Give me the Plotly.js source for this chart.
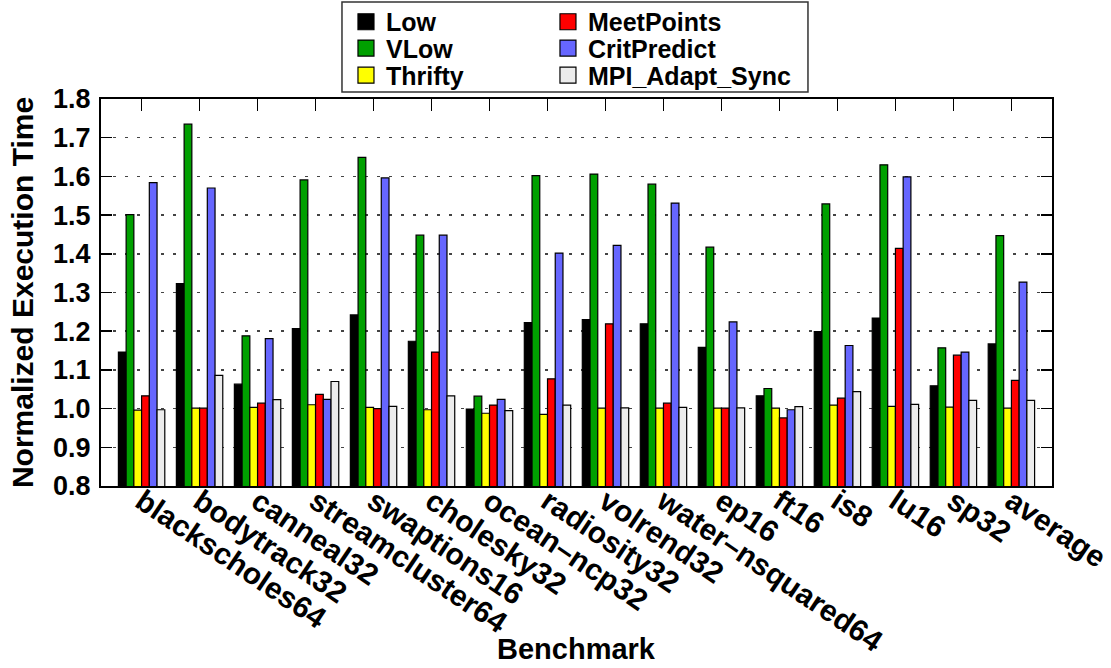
<!DOCTYPE html>
<html>
<head>
<meta charset="utf-8">
<script src="https://cdn.plot.ly/plotly-3.0.1.min.js"></script>
<style>html,body{margin:0;padding:0;background:#fff;}#chart{width:1111px;height:668px;}</style>
</head>
<body>
<div id="chart"></div>
<script>
const categories = ['blackscholes64','bodytrack32','canneal32','streamcluster64','swaptions16','cholesky32','ocean–ncp32','radiosity32','volrend32','water–nsquared64','ep16','ft16','is8','lu16','sp32','average'];
const low        = [1.146,1.323,1.063,1.207,1.242,1.174,0.999,1.222,1.230,1.219,1.158,1.033,1.199,1.234,1.059,1.167];
const vlow       = [1.501,1.735,1.188,1.591,1.649,1.448,1.032,1.602,1.606,1.580,1.417,1.052,1.529,1.630,1.157,1.447];
const thrifty    = [0.996,1.001,1.003,1.010,1.003,0.997,0.988,0.985,1.001,1.001,1.001,1.001,1.009,1.006,1.004,1.001];
const meetPoints = [1.033,1.001,1.014,1.037,1.000,1.146,1.009,1.077,1.219,1.014,1.001,0.976,1.027,1.414,1.138,1.073];
const critPredict= [1.584,1.570,1.181,1.024,1.596,1.448,1.024,1.402,1.422,1.531,1.224,0.997,1.163,1.599,1.146,1.327];
const mpiAdapt   = [0.997,1.086,1.023,1.070,1.006,1.033,0.995,1.009,1.002,1.003,1.002,1.005,1.044,1.011,1.021,1.021];
const yTicks = [0.8,0.9,1.0,1.1,1.2,1.3,1.4,1.5,1.6,1.7,1.8];

const FONT = 'Liberation Sans, Arial, Helvetica, sans-serif';
const seriesDefs = [
  {name:'Low', y:low, color:'#000000', legend:'legend'},
  {name:'VLow', y:vlow, color:'#00a000', legend:'legend2'},
  {name:'Thrifty', y:thrifty, color:'#ffff00', legend:'legend3'},
  {name:'MeetPoints', y:meetPoints, color:'#ff0000', legend:'legend4'},
  {name:'CritPredict', y:critPredict, color:'#6666ff', legend:'legend5'},
  {name:'MPI_Adapt_Sync', y:mpiAdapt, color:'#ececec', legend:'legend6'}
];
const traces = seriesDefs.map(s => ({
  type:'bar', name:s.name, x:categories, y:s.y, showlegend:false,
  marker:{color:s.color, line:{color:'#000', width:1.2}}
}));
// legend-only entries (larger square keys)
seriesDefs.forEach(s => traces.push({
  type:'scatter', mode:'markers', name:s.name, x:[categories[0]], y:[null], legend:s.legend,
  showlegend:true, hoverinfo:'skip',
  marker:{symbol:'square', size:17, color:s.color, line:{color:'#000', width:1.2}}
}));

const legendFont = {family:FONT, size:25, color:'#000', weight:'bold'};
function leg(x, y){
  return {x:x, xanchor:'left', y:y, yanchor:'middle', bgcolor:'rgba(0,0,0,0)', borderwidth:0, font:legendFont, itemsizing:'trace'};
}
const col1 = 0.2576, col2 = 0.4700;
const row1 = 1.1990, row2 = 1.1310, row3 = 1.0610;
const layout = {
  width:1111, height:668,
  margin:{l:101, r:59, t:99, b:182, autoexpand:false},
  paper_bgcolor:'#fff', plot_bgcolor:'#fff',
  barmode:'group', bargap:0.2, bargroupgap:0,
  font:{family:FONT, color:'#000', weight:'bold'},
  showlegend:true,
  legend:leg(col1,row1), legend2:leg(col1,row2), legend3:leg(col1,row3),
  legend4:leg(col2,row1), legend5:leg(col2,row2), legend6:leg(col2,row3),
  xaxis:{
    type:'category', range:[-0.7, 15.7], automargin:false,
    tickangle:34, tickfont:{family:FONT, size:30, weight:'bold'}, ticklabelstandoff:-16,
    ticks:'inside', ticklen:12, tickwidth:1.5, tickcolor:'#000', mirror:'ticks',
    showline:true, linecolor:'#000', linewidth:2, showgrid:false, zeroline:false
  },
  yaxis:{
    range:[0.8,1.8], tickvals:yTicks, tickformat:'.1f', automargin:false,
    tickfont:{family:FONT, size:27, weight:'bold'}, ticklabelstandoff:3,
    ticks:'inside', ticklen:11, tickwidth:1.5, tickcolor:'#000', mirror:'ticks',
    showline:true, linecolor:'#000', linewidth:2,
    showgrid:true, gridcolor:'#444', gridwidth:1.5, griddash:'3px,9px', zeroline:false,
    title:{text:'Normalized Execution Time', font:{family:FONT, size:30, weight:'bold'}, standoff:11}
  },
  annotations:[{
    text:'Benchmark', xref:'paper', yref:'paper', x:0.5, y:-0.421, xanchor:'center', yanchor:'middle',
    showarrow:false, font:{family:FONT, size:29, weight:'bold', color:'#000'}
  }],
  shapes:[{
    type:'rect', xref:'paper', yref:'paper', x0:0.2534, x1:0.7434, y0:1.018, y1:1.2506,
    line:{color:'#333', width:1.5}, fillcolor:'rgba(0,0,0,0)'
  }]
};
Plotly.newPlot('chart', traces, layout, {displayModeBar:false, staticPlot:true});
</script>
</body>
</html>
